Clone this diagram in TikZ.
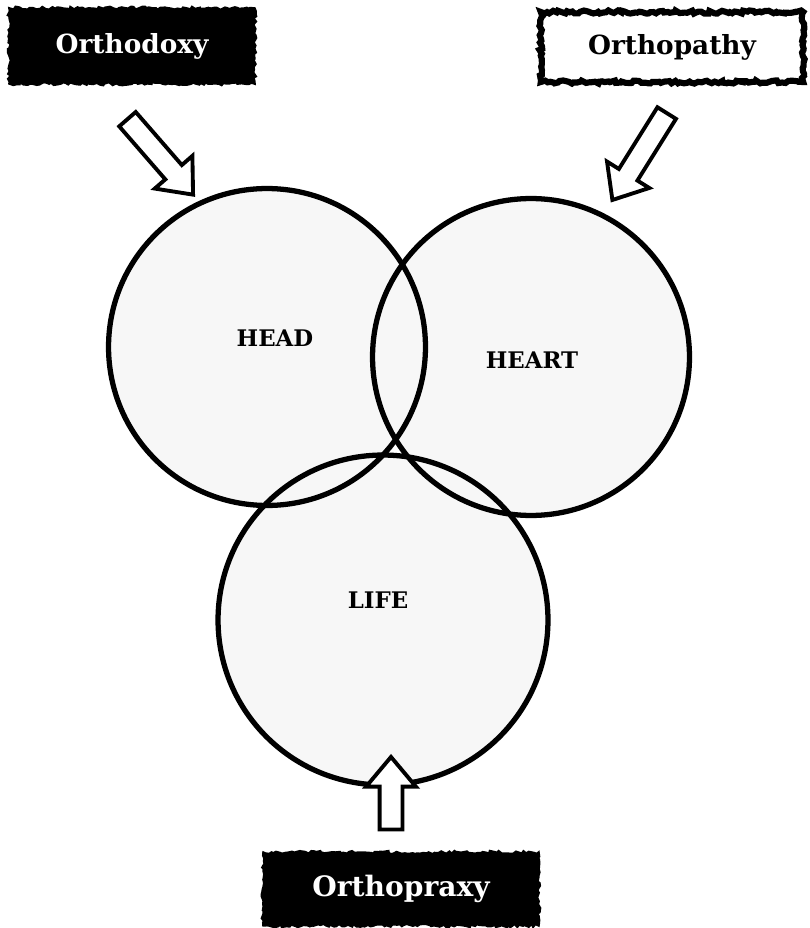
\documentclass[tikz,border=0pt]{standalone}
\usepackage{fontspec}
\setmainfont{DejaVu Serif}
\usetikzlibrary{positioning,shapes.arrows,decorations.pathmorphing}

\begin{document}
\begin{tikzpicture}[x=0.02cm,y=-0.02cm]
\tikzstyle{every node}=[font=\bfseries]
\tikzstyle{grunge}=[decorate,decoration={random steps,segment length=1.6pt,amplitude=0.9pt}]
\tikzstyle{darkbox}=[grunge,draw=black,fill=black,line width=1.5pt,text=white,minimum height=1.5cm,font=\fontsize{15}{18}\selectfont\bfseries]
\tikzstyle{lightbox}=[grunge,draw=black,fill=white,line width=3.5pt,text=black,minimum height=1.4cm,font=\fontsize{15}{18}\selectfont\bfseries]
\tikzstyle{sphere}=[circle,fill=gray!6,minimum size=6.34cm]
\tikzstyle{rim}=[circle,draw=black,line width=3pt,minimum size=6.34cm]
\tikzstyle{tag}=[font=\fontsize{13}{15}\selectfont\bfseries]
\tikzstyle{hollow}=[single arrow,draw=black,fill=white,line width=2.2pt,text height=0pt,text depth=0pt,inner xsep=0pt,inner ysep=0.18cm,minimum width=0pt,single arrow head extend=0.28cm,single arrow head indent=0pt,single arrow tip angle=80]
\useasboundingbox (0,0) rectangle (809,928);
\node[darkbox,minimum width=4.9cm] (dox) at (132,46) {Orthodoxy};
\node[lightbox,minimum width=5.25cm] (pathy) at (672,47) {Orthopathy};
\node[darkbox,minimum width=5.5cm,minimum height=1.45cm,font=\fontsize{16}{19}\selectfont\bfseries] (praxy) at (401,889) {Orthopraxy};
\node[sphere] (head) at (267,347) {};
\node[sphere] (heart) at (531,357) {};
\node[sphere,minimum size=6.6cm] (life) at (383,620) {};
\node[rim] at (head) {};
\node[rim] at (heart) {};
\node[rim,minimum size=6.6cm] at (life) {};
\node[tag] (headtag) at (275,338) {HEAD};
\node[tag] (hearttag) at (532,360) {HEART};
\node[tag] (lifetag) at (378,600) {LIFE};
\node[hollow,rotate=-49,minimum height=2.0cm] (doxarrow) at (156,152) {};
\node[hollow,rotate=-122,minimum height=2.05cm] (pathyarrow) at (643,151) {};
\node[hollow,rotate=90,minimum height=1.45cm,inner ysep=0.19cm,single arrow head extend=0.27cm] (praxyarrow) at (391,800) {};
\end{tikzpicture}
\end{document}
